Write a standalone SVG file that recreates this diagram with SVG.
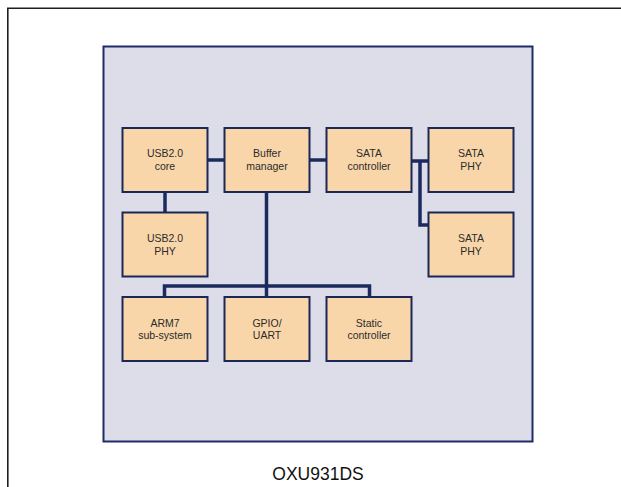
<svg xmlns="http://www.w3.org/2000/svg" width="621" height="487" viewBox="0 0 621 487">
<style>
.frame{fill:none;stroke:#1e1e1e;stroke-width:1.6}
.panel{fill:#dcdde9;stroke:#1f2c6a;stroke-width:2}
.box{fill:#f9d6aa;stroke:#1b2757;stroke-width:2}
.lbl{font-family:"Liberation Sans",Arial,sans-serif;font-size:10.5px;fill:#2b2b2b;text-anchor:middle}
.title{font-family:"Liberation Sans",Arial,sans-serif;font-size:17.5px;fill:#111;text-anchor:middle}
.wire{fill:none;stroke:#1b2a5e;stroke-width:3.5;stroke-linejoin:miter;stroke-linecap:butt}
</style>
<rect width="621" height="487" fill="#ffffff"/>
<path class="frame" d="M7.8 500 V8.3 H640"/>
<rect class="panel" x="103.5" y="46.5" width="429" height="395"/>
<g id="connectors">
<path class="wire" d="M207 160 H224"/>
<path class="wire" d="M309 160 H326"/>
<path class="wire" d="M411 161 H428"/>
<path class="wire" d="M420 161 V225 H428"/>
<path class="wire" d="M165 192 V212"/>
<path class="wire" d="M266.5 192 V297"/>
<path class="wire" d="M164.5 297 V286 H369.5 V297"/>
</g>
<g id="usb-core"><rect class="box" x="122.5" y="128" width="85" height="64"/><text class="lbl" x="165" y="157.3">USB2.0</text><text class="lbl" x="165" y="170">core</text></g>
<g id="buffer-manager"><rect class="box" x="224.5" y="128" width="85" height="64"/><text class="lbl" x="267" y="157.3">Buffer</text><text class="lbl" x="267" y="170">manager</text></g>
<g id="sata-controller"><rect class="box" x="326.5" y="128" width="85" height="64"/><text class="lbl" x="369" y="157.3">SATA</text><text class="lbl" x="369" y="170">controller</text></g>
<g id="sata-phy-1"><rect class="box" x="428.5" y="128" width="85" height="64"/><text class="lbl" x="471" y="157.3">SATA</text><text class="lbl" x="471" y="170">PHY</text></g>
<g id="usb-phy"><rect class="box" x="122.5" y="212.5" width="85" height="64"/><text class="lbl" x="165" y="241.8">USB2.0</text><text class="lbl" x="165" y="254.5">PHY</text></g>
<g id="sata-phy-2"><rect class="box" x="428.5" y="212.5" width="85" height="64"/><text class="lbl" x="471" y="241.8">SATA</text><text class="lbl" x="471" y="254.5">PHY</text></g>
<g id="arm7"><rect class="box" x="122.5" y="297" width="85" height="64"/><text class="lbl" x="165" y="326.5">ARM7</text><text class="lbl" x="165" y="339">sub-system</text></g>
<g id="gpio-uart"><rect class="box" x="224.5" y="297" width="85" height="64"/><text class="lbl" x="267" y="326.5">GPIO/</text><text class="lbl" x="267" y="339">UART</text></g>
<g id="static-controller"><rect class="box" x="326.5" y="297" width="85" height="64"/><text class="lbl" x="369" y="326.5">Static</text><text class="lbl" x="369" y="339">controller</text></g>
<text class="title" x="318" y="480">OXU931DS</text>
</svg>
